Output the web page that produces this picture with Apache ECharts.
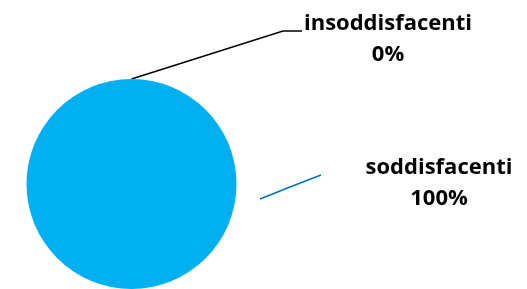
<!DOCTYPE html>
<html>
<head>
<meta charset="utf-8">
<script src="https://cdn.jsdelivr.net/npm/echarts@6/dist/echarts.min.js"></script>
<style>
  html, body { margin: 0; padding: 0; background: #fff; }
  #chart { width: 527px; height: 289px; }
</style>
</head>
<body>
<div id="chart"></div>
<script>
// data
var categories = ['insoddisfacenti', 'soddisfacenti'];
var values = [0, 100];
var sliceColors = ['#000000', '#00B0F0'];
var lineColors = ['#000000', '#0070C0'];

var chart = echarts.init(document.getElementById('chart'));

var cx = 131.5, cy = 184, r = 105;

// where each label sits, and its leader line
var labelSpots = [
    {x: 388, y: 39, line: [[cx, cy - r], [283, 31], [302, 31]]},
    {x: 439, y: 183, line: [[260, 199], [290, 187], [321, 175]]}
];

var pieData = categories.map(function (name, i) {
    return {
        name: name,
        value: values[i],
        itemStyle: {color: sliceColors[i]},
        labelLine: {lineStyle: {color: lineColors[i], width: 1.5}}
    };
});

var option = {
    animation: false,
    series: [{
        type: 'pie',
        center: [cx, cy],
        radius: r,
        startAngle: 90,
        clockwise: true,
        silent: true,
        avoidLabelOverlap: false,
        itemStyle: {borderWidth: 0},
        label: {
            show: true,
            position: 'outside',
            formatter: '{b}\n{d}%',
            fontFamily: 'Open Sans',
            fontWeight: 'bold',
            fontSize: 22,
            lineHeight: 31,
            color: '#000',
            align: 'center'
        },
        labelLine: {show: true, length: 10, length2: 10},
        labelLayout: function (params) {
            var s = labelSpots[params.dataIndex];
            return {
                x: s.x,
                y: s.y,
                align: 'center',
                verticalAlign: 'middle',
                labelLinePoints: s.line
            };
        },
        data: pieData
    }]
};

chart.setOption(option);
</script>
</body>
</html>
